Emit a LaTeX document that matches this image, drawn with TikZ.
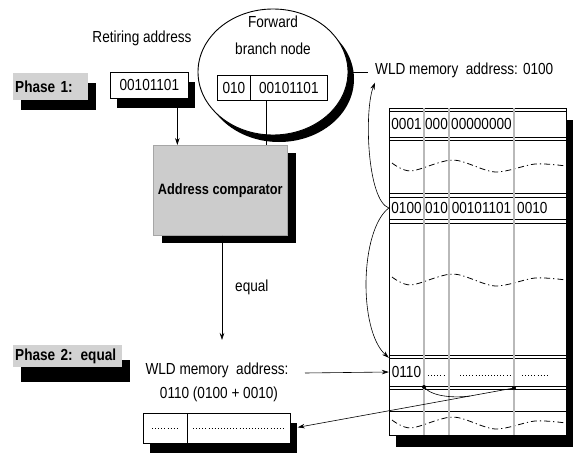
\documentclass[tikz,border=0pt]{standalone}
\usepackage{fontspec}
\setmainfont{Liberation Sans}[FakeStretch=0.85]
\usetikzlibrary{shapes.geometric,shadows,arrows.meta,calc}
\begin{document}
\begin{tikzpicture}[x=1pt,y=-1pt,
  every node/.style={inner sep=0pt, font=\fontsize{16}{18}\selectfont},
  shad/.style 2 args={drop shadow={shadow xshift=#1, shadow yshift=#2, fill=black, opacity=1}},
  box/.style={draw, line width=0.7pt, fill=white, anchor=north west},
  gbox/.style={fill=gray!35, anchor=north west, font=\fontsize{16}{18}\selectfont\bfseries, align=left, inner sep=2pt},
  conn/.style={line width=0.6pt},
  arr/.style={conn, -{Stealth[length=7pt,width=4.5pt]}},
  wavy/.style={line width=0.8pt, dash pattern=on 6pt off 3pt on 1.2pt off 3pt},
  vline/.style={draw=black!90, line width=0.8pt, double=gray!55, double distance=1.1pt},
  hline/.style={line width=0.7pt},
  dotrow/.style={line width=1pt, dash pattern=on 0.9pt off 2.2pt},
  c1cell/.style={minimum width=35pt, minimum height=26pt}
]
\useasboundingbox (0,0) rectangle (576,455);

% phase labels
\node[gbox, text width=71pt, minimum height=27pt, shad={8pt}{-10pt}] (p1) at (13,73) {Phase 1:};
\node[gbox, text width=105pt, minimum height=22pt, shad={8pt}{-15pt}] (p2) at (13,345) {Phase 2: equal};

% retiring address
\node (retl) at (142,38) {Retiring address};
\node[box, minimum width=78pt, minimum height=26pt, shad={7pt}{-10pt}] (ret) at (110,72) {00101101};

% comparator
\node[box, fill=gray!40, draw=gray!70, minimum width=134pt, minimum height=90pt,
      font=\fontsize{15}{17}\selectfont\bfseries, shad={9pt}{-8pt}] (cmp) at (153,145) {Address comparator};

% forward branch node
\node[ellipse, draw, line width=0.9pt, fill=white, minimum width=150pt, minimum height=126pt, shad={6pt}{-7pt}] (fbn) at (273,72) {};
\node (fwd) at (273,22) {Forward};
\node (brn) at (273,49) {branch node};
\node[box, minimum width=33pt, minimum height=25pt] (fb1) at (217,75) {010};
\node[box, minimum width=77pt, minimum height=25pt] (fb2) at (250,75) {00101101};

\coordinate (w1l) at (368,72);
\draw[conn] (fbn.east) -- (w1l);
\node[anchor=west] (wld1) at (375,70) {WLD memory\ \ address: 0100};

% arrows into comparator
\path ($(ret.south)+(28,0)$) coordinate (r1);
\draw[arr] (r1) -- (r1 |- cmp.north);
\path ($(fb2.south)+(-23,0)$) coordinate (f1);
\draw[conn] (f1) -- (f1 |- cmp.north);

% equal arrow
\coordinate (eq) at (222,340);
\draw[arr] (cmp.south -| eq) -- (eq);
\node[anchor=west] (eql) at (235,287) {equal};

% WLD memory address phase 2
\node (wld2a) at (217,370) {WLD memory\ \ address:};
\node (wld2b) at (219,394) {0110 (0100 + 0010)};

% table
\path[draw, line width=0.7pt, fill=white, shad={7pt}{-12pt}] (389,108) rectangle (566,435);
\foreach \y in {111,137,140,193,197,219,223,355,358,386,389,411}
  \draw[hline] (389,\y) -- (566,\y);
\foreach \b in {166,280,423}
  \draw[wavy] plot[smooth] coordinates {(392,{\b-3}) (411,{\b+5}) (453,{\b-6}) (495,{\b+6}) (535,{\b-2}) (566,\b)};
\foreach \x in {424,449,514}
  \draw[vline] (\x,108) -- (\x,435);

\node[c1cell] (r1c1) at (406.5,124) {0001};
\node (r1c2) at (436.5,124) {000};
\node (r1c3) at (481.5,124) {00000000};
\node[c1cell] (r2c1) at (406.5,208) {0100};
\node (r2c2) at (436.5,208) {010};
\node (r2c3) at (481.5,208) {00101101};
\node[anchor=west] (r2c4) at (517,208) {0010};
\node[c1cell, minimum height=28pt] (r3c1) at (406.5,372) {0110};
\draw[dotrow] (428,375) -- (446,375);
\draw[dotrow] (460,375) -- (512,375);
\draw[dotrow] (522,375) -- (548,375);

% small result box
\node[box, minimum width=44pt, minimum height=30pt, shad={7pt}{-10pt}] (sb1) at (143,413) {};
\node[box, minimum width=103pt, minimum height=30pt, shad={7pt}{-10pt}] (sb2) at (187,413) {};
\draw[dotrow] (152,428) -- (177,428);
\draw[dotrow] (193,428) -- (285,428);

% curved arrows
\draw[arr] (r2c1.west) .. controls (367,200) and (364,110) .. ([yshift=-5pt]wld1.south west);
\draw[arr] (r2c1.west) .. controls (360,230) and (358,330) .. (r3c1.north west);

% address to 0110 row
\coordinate (c1) at (305,373);
\draw[arr] (c1) -- (r3c1.west);

% read-out to small box
\coordinate (d1) at (424,387);
\coordinate (d2) at (514,388);
\fill (d1) circle (2);
\fill (d2) circle (2);
\path ($(sb2.east)+(7,-1)$) coordinate (sbt);
\draw[arr] (d2) -- (sbt);
\draw[conn] (d1) .. controls (432,397) and (455,398) .. (470,396);
\end{tikzpicture}
\end{document}
